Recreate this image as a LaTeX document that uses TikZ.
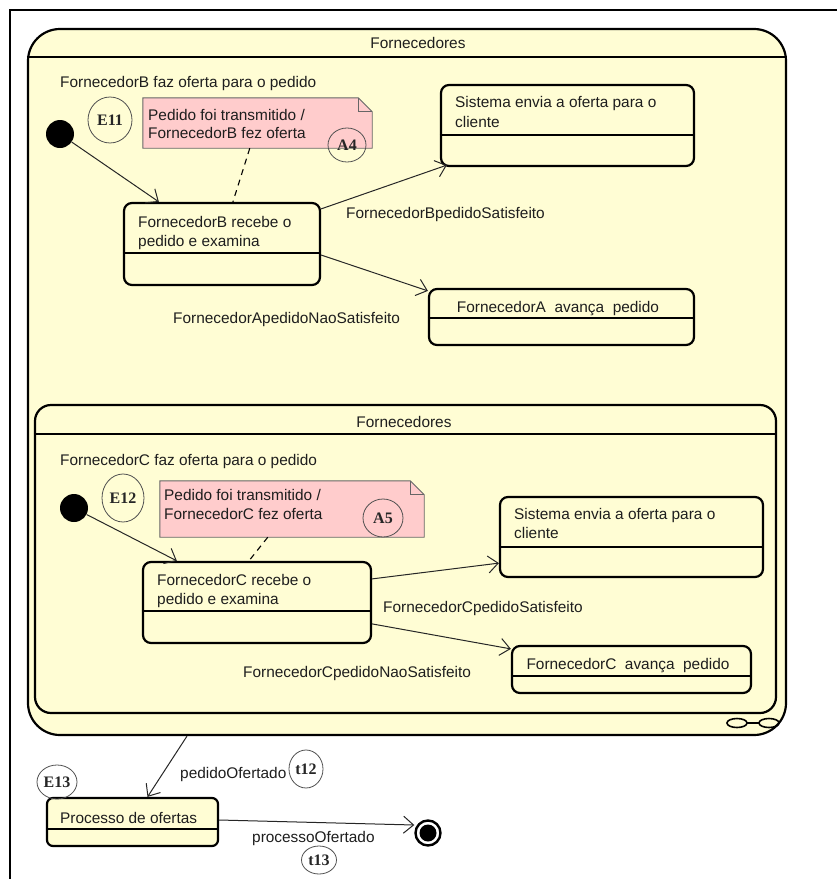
\documentclass[tikz,border=0pt]{standalone}
\usepackage{fontspec}
\setmainfont{Liberation Sans}
\newfontfamily\tagfont{Liberation Serif}
\usetikzlibrary{arrows.meta,shapes.geometric,calc}

\definecolor{stfill}{RGB}{255,253,212}
\definecolor{notefill}{RGB}{255,204,204}
\definecolor{tagline}{RGB}{80,80,80}
\definecolor{txt}{RGB}{30,30,30}

\begin{document}
\begin{tikzpicture}[x=1pt,y=-1pt,
  lbl/.style={anchor=base west, inner sep=0pt, text=txt,
    font=\fontsize{15.4}{19}\selectfont},
  stbox/.style={draw, line width=2.2pt, rounded corners=8pt, fill=stfill,
    inner sep=0pt},
  compbox/.style={draw, line width=2.2pt, fill=stfill, inner sep=0pt},
  divider/.style={line width=1.1pt},
  tag/.style={ellipse, draw=tagline, line width=0.8pt, inner sep=0pt,
    text=black!85, font=\tagfont\bfseries\fontsize{16}{16}\selectfont},
  notebox/.style={fill=notefill, draw=black!60, line width=0.9pt},
  trans/.style={line width=1pt, draw=black!85,
    -{Straight Barb[length=10pt,width=17pt,line width=1pt]}},
  anchorline/.style={line width=1.1pt, dash pattern=on 6pt off 5pt},
  initial/.style={circle, fill=black, minimum size=28pt, inner sep=0pt},
  plain/.style={inner sep=0pt}
]
\useasboundingbox (0,0) rectangle (837,879);
\fill[white] (0,0) rectangle (837,879);

% diagram frame
\draw[line width=1.8pt] (10,879) -- (10,10) -- (837,10);

% ---------- outer composite state ----------
\node[compbox, rounded corners=32pt, minimum width=758pt, minimum height=706pt]
  (outer) at (407,382) {};
\draw[divider] (outer.west |- 0,57) -- (outer.east |- 0,57);
\node[lbl, anchor=base] (outerTitle) at (418,48) {Fornecedores};

% composite-state icon
\draw[line width=1.6pt] (737,723) ellipse [x radius=10pt, y radius=4.5pt];
\draw[line width=1.6pt] (769,723) ellipse [x radius=10pt, y radius=4.5pt];
\draw[line width=1.6pt] (747,723) -- (759,723);

% ---------- region of FornecedorB ----------
\node[lbl] (lblB) at (60,87) {FornecedorB faz oferta para o pedido};
\node[initial] (ini1) at (60,134) {};
\node[tag, minimum width=44pt, minimum height=46pt] (E11) at (110,120) {E11};

\node[plain, minimum width=229pt, minimum height=50pt] (noteA) at (257.5,123) {};
\filldraw[notebox] (noteA.south west) -- (noteA.north west)
  -- ([xshift=-14pt]noteA.north east) -- ([yshift=-14pt]noteA.north east)
  -- (noteA.south east) -- cycle;
\draw[notebox, fill=none] ([xshift=-14pt]noteA.north east) |- ([yshift=-14pt]noteA.north east);
\node[lbl] (noteA1) at (148,120) {Pedido foi transmitido /};
\node[lbl] (noteA2) at (148,138) {FornecedorB fez oferta};
\node[tag, minimum width=38pt, minimum height=34pt] (A4) at (347,145) {A4};

\node[stbox, minimum width=196pt, minimum height=82pt] (fb) at (222,244) {};
\draw[divider] (fb.west |- 0,253) -- (fb.east |- 0,253);
\node[lbl] (fbT1) at (138,227) {FornecedorB recebe o};
\node[lbl] (fbT2) at (138,246) {pedido e examina};

\node[stbox, minimum width=253pt, minimum height=81pt] (sis1) at (567.5,125.5) {};
\draw[divider] (sis1.west |- 0,135) -- (sis1.east |- 0,135);
\node[lbl] (sis1T1) at (455,107) {Sistema envia a oferta para o};
\node[lbl] (sis1T2) at (455,127) {cliente};

\node[stbox, minimum width=265pt, minimum height=56pt] (fa) at (561.5,317) {};
\draw[divider] (fa.west |- 0,318) -- (fa.east |- 0,318);
\node[lbl, anchor=base] (faT) at (558,312) {FornecedorA\ \ avança\ \ pedido};

\draw[trans] (ini1) -- ([xshift=36pt]fb.north west);
\draw[anchorline] ([xshift=107pt]noteA.south west) -- ([xshift=110pt]fb.north west);
\draw[trans] ([yshift=-7pt]fb.north east) -- ([xshift=7pt,yshift=2pt]sis1.south west);
\draw[trans] ([yshift=-11pt]fb.east) -- ([yshift=-3pt]fa.north west);
\node[lbl] (lblBsat) at (346,218) {FornecedorBpedidoSatisfeito};
\node[lbl] (lblAnao) at (173,323) {FornecedorApedidoNaoSatisfeito};

% ---------- nested composite state ----------
\node[compbox, rounded corners=16pt, minimum width=741pt, minimum height=308pt]
  (inner) at (405.5,559) {};
\draw[divider] (inner.west |- 0,434) -- (inner.east |- 0,434);
\node[lbl, anchor=base] (innerTitle) at (404,427) {Fornecedores};

\node[lbl] (lblC) at (60,465) {FornecedorC faz oferta para o pedido};
\node[initial] (ini2) at (74,508) {};
\node[tag, minimum width=42pt, minimum height=48pt] (E12) at (123,498) {E12};

\node[plain, minimum width=264pt, minimum height=56pt] (noteB) at (292,509) {};
\filldraw[notebox] (noteB.south west) -- (noteB.north west)
  -- ([xshift=-14pt]noteB.north east) -- ([yshift=-14pt]noteB.north east)
  -- (noteB.south east) -- cycle;
\draw[notebox, fill=none] ([xshift=-14pt]noteB.north east) |- ([yshift=-14pt]noteB.north east);
\node[lbl] (noteB1) at (164,500) {Pedido foi transmitido /};
\node[lbl] (noteB2) at (164,519) {FornecedorC fez oferta};
\node[tag, minimum width=40pt, minimum height=38pt] (A5) at (383,518) {A5};

\node[stbox, minimum width=228pt, minimum height=81pt] (fc) at (257,602.5) {};
\draw[divider] (fc.west |- 0,611) -- (fc.east |- 0,611);
\node[lbl] (fcT1) at (157,585) {FornecedorC recebe o};
\node[lbl] (fcT2) at (157,604) {pedido e examina};

\node[stbox, minimum width=263pt, minimum height=80pt] (sis2) at (631.5,537) {};
\draw[divider] (sis2.west |- 0,547) -- (sis2.east |- 0,547);
\node[lbl] (sis2T1) at (514,519) {Sistema envia a oferta para o};
\node[lbl] (sis2T2) at (514,538) {cliente};

\node[stbox, minimum width=239pt, minimum height=47pt] (fca) at (631.5,669.5) {};
\draw[divider] (fca.west |- 0,676) -- (fca.east |- 0,676);
\node[lbl, anchor=base] (fcaT) at (628,669) {FornecedorC\ \ avança\ \ pedido};

\draw[trans] (ini2) -- ([xshift=35pt]fc.north west);
\draw[anchorline] ([xshift=108pt]noteB.south west) -- ([xshift=107pt]fc.north west);
\draw[trans] ([yshift=-18pt]fc.north east) -- ([yshift=15pt]sis2.south west);
\draw[trans] ([yshift=-63pt]fc.north east) -- ([yshift=-4pt]fca.north west);
\node[lbl] (lblCsat) at (383,612) {FornecedorCpedidoSatisfeito};
\node[lbl] (lblCnao) at (243,677) {FornecedorCpedidoNaoSatisfeito};

% ---------- after the composite state ----------
\node[stbox, rounded corners=6pt, minimum width=171pt, minimum height=48pt] (proc) at (132.5,822) {};
\draw[divider] (proc.west |- 0,829) -- (proc.east |- 0,829);
\node[lbl] (procT) at (60,823) {Processo de ofertas};
\node[tag, minimum width=40pt, minimum height=34pt] (E13) at (57,782) {E13};

\node[circle, draw, line width=2.4pt, fill=white, minimum size=25pt, inner sep=0pt] (fin) at (428,833) {};
\fill (fin) circle (8.5pt);

\draw[trans] ([xshift=-220pt]outer.south) -- ([xshift=15pt]proc.north);
\node[lbl] (lblPed) at (180,778) {pedidoOfertado};
\node[tag, minimum width=34pt, minimum height=38pt] (t12) at (306,769) {t12};

\draw[trans] ([yshift=2pt]proc.east) -- ([yshift=8pt]fin.west);
\node[lbl] (lblProc) at (252,842) {processoOfertado};
\node[tag, minimum width=35pt, minimum height=28pt] (t13) at (319,860) {t13};
\end{tikzpicture}
\end{document}
